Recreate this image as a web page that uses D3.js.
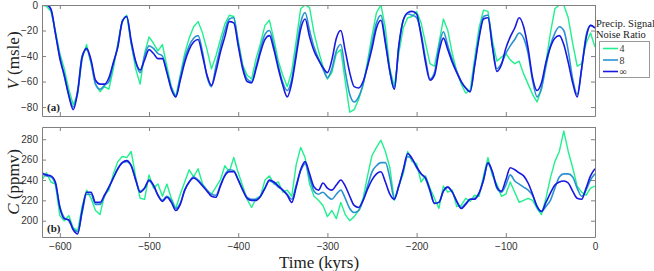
<!DOCTYPE html>
<html>
<head>
<meta charset="utf-8">
<script src="https://cdn.jsdelivr.net/npm/d3@7"></script>
<style>
  body { margin: 0; background: #fff; }
  .serif { font-family: "Liberation Serif", "Times New Roman", "DejaVu Serif", serif; }
</style>
</head>
<body>
<script>
// time in kyrs, one sample every 5 kyr
const time = d3.range(-620, 1, 5);

// sea level V (msle) for each signal/noise ratio
const seaInf = [
  0, 0, -3, -22, -42, -55, -71, -82, -68, -41,
  -34, -43, -59, -62, -62, -57, -45, -33, -13, -9,
  -28, -44, -51, -43, -35, -38, -42, -42, -53, -66,
  -72, -59, -45, -35, -29, -27, -40, -55, -63, -52,
  -37, -25, -13, -14, -32, -50, -60, -61, -50, -37,
  -27, -24, -35, -50, -63, -72, -61, -40, -19, -11,
  -25, -36, -43, -49, -53, -43, -26, -20, -36, -53,
  -64, -65, -60, -48, -34, -18, -12, -30, -52, -66,
  -32, -12, -6, -5, -7, -24, -45, -59, -55, -37,
  -26, -35, -45, -53, -60, -65, -68, -48, -26, -11,
  -10, -33, -52, -47, -34, -25, -18, -10, -17, -34,
  -57, -67, -61, -45, -33, -26, -24, -31, -45, -61,
  -72, -50, -26, -16, -18
];
const sea8 = [
  0, 0, -4, -22, -40, -56, -70, -80, -67, -40,
  -35, -45, -62, -66, -63, -60, -46, -32, -13, -9,
  -30, -45, -53, -40, -32, -34, -38, -40, -52, -65,
  -71, -57, -42, -32, -26, -24, -37, -56, -64, -48,
  -33, -20, -11, -10, -30, -48, -58, -60, -48, -34,
  -23, -20, -32, -48, -61, -67, -58, -36, -14, -6,
  -20, -33, -42, -50, -57, -50, -36, -31, -52, -70,
  -76, -72, -62, -47, -30, -14, -8, -28, -52, -66,
  -33, -12, -7, -8, -10, -22, -42, -58, -53, -33,
  -21, -32, -43, -52, -60, -65, -68, -47, -24, -9,
  -8, -32, -50, -46, -38, -32, -27, -22, -26, -38,
  -59, -72, -65, -48, -32, -22, -17, -20, -36, -58,
  -70, -50, -24, -16, -18
];
const sea4 = [
  0, -1, -5, -20, -38, -50, -66, -78, -70, -42,
  -31, -46, -62, -68, -64, -66, -50, -30, -12, -8,
  -30, -50, -62, -38, -25, -30, -36, -31, -48, -64,
  -72, -55, -38, -26, -17, -13, -22, -35, -50, -40,
  -27, -15, -8, -9, -28, -47, -55, -58, -42, -30,
  -16, -12, -27, -44, -55, -64, -52, -28, -3, 0,
  -2, -22, -36, -48, -58, -53, -38, -35, -60, -84,
  -82, -74, -63, -44, -24, -6, 0, -18, -50, -64,
  -38, -18, -10, -9, -5, -14, -30, -46, -48, -30,
  -11, -20, -38, -52, -62, -69, -67, -42, -18, -4,
  -5, -28, -44, -41, -38, -43, -46, -44, -54, -62,
  -70, -76, -66, -45, -22, -3, 0, 0, -10, -30,
  -48, -46, -30, -22, -33
];

// CO2 C (ppmv)
const co2Inf = [
  247, 245, 244, 238, 213, 202, 201, 191, 187, 210,
  228, 228, 218, 218, 225, 233, 242, 251, 257, 259,
  254, 240, 228, 232, 240, 235, 225, 219, 223, 218,
  210, 216, 230, 238, 242, 239, 234, 229, 224, 223,
  234, 244, 248, 248, 240, 230, 222, 220, 220, 224,
  232, 240, 238, 234, 230, 225, 218, 233, 250, 258,
  246, 233, 230, 237, 232, 230, 235, 240, 234, 224,
  215, 213, 220, 231, 240, 246, 248, 238, 226, 221,
  234, 250, 266, 261, 253, 246, 242, 230, 217, 218,
  229, 233, 228, 219, 212, 216, 221, 221, 227, 240,
  257, 248, 233, 229, 240, 252, 250, 247, 244, 237,
  226, 214, 209, 218, 227, 235, 238, 239, 237, 229,
  222, 221, 232, 244, 251
];
const co28 = [
  246, 244, 243, 236, 214, 203, 200, 192, 189, 208,
  226, 226, 216, 216, 224, 233, 242, 251, 257, 258,
  254, 241, 229, 232, 239, 234, 225, 220, 224, 220,
  212, 217, 230, 238, 243, 240, 235, 230, 226, 225,
  235, 245, 250, 249, 240, 231, 223, 221, 221, 224,
  232, 239, 237, 233, 230, 226, 221, 235, 249, 256,
  242, 229, 226, 228, 224, 221, 226, 230, 222, 212,
  208, 210, 220, 234, 248, 254, 257, 257, 242, 222,
  234, 249, 263, 260, 252, 246, 241, 229, 217, 218,
  229, 233, 228, 219, 213, 217, 221, 222, 227, 240,
  256, 247, 232, 228, 235, 245, 239, 236, 233, 230,
  225, 214, 209, 214, 220, 232, 243, 246, 246, 243,
  232, 224, 230, 240, 246
];
const co24 = [
  240, 247, 238, 236, 205, 200, 205, 193, 190, 214,
  230, 222, 210, 206, 225, 230, 246, 258, 263, 262,
  268, 243, 222, 221, 245, 232, 236, 224, 236, 222,
  212, 226, 238, 250, 243, 251, 236, 230, 226, 233,
  240, 254, 248, 262, 247, 234, 221, 213, 222, 224,
  240, 244, 236, 238, 228, 230, 224, 255, 272, 262,
  236, 224, 220, 215, 204, 210, 202, 218, 206, 200,
  204, 210, 222, 244, 264, 272, 279, 268, 252, 220,
  234, 246, 268, 258, 256, 238, 244, 232, 222, 212,
  234, 228, 230, 214, 215, 222, 219, 225, 224, 244,
  262, 244, 236, 224, 226, 238, 228, 218, 220, 222,
  220, 212, 206, 222, 242, 258, 268, 288, 268, 252,
  234, 228, 225, 232, 234
];

const xTicks = [-600, -500, -400, -300, -200, -100, 0];
const vTicks = [-80, -60, -40, -20, 0];
const cTicks = [200, 220, 240, 260, 280];
const legendLabels = ["4", "8", "\u221e"];
const colors = ["#20f08e", "#2a92d2", "#1818e0"];

const w = 654;
const h = 271;
const svg = d3.select("body").append("svg").attr("width", w).attr("height", h);

const x = d3.scaleLinear().domain([-620, 0]).range([42, 595]);
const yV = d3.scaleLinear().domain([-87, 0]).range([116, 5]);
const yC = d3.scaleLinear().domain([184, 292]).range([237, 127]);

function panel(id, y, yTicks, series, label, italic, rest, showX) {
  const top = y.range()[1], bot = y.range()[0];
  const left = x.range()[0], right = x.range()[1];

  svg.append("clipPath").attr("id", id)
    .append("rect")
    .attr("x", left).attr("y", top)
    .attr("width", right - left).attr("height", bot - top);

  const g = svg.append("g").attr("clip-path", "url(#" + id + ")");
  series.forEach((s, i) => {
    const line = d3.line()
      .x((d, j) => x(time[j]))
      .y((d) => y(d))
      .curve(i === 0 ? d3.curveLinear : d3.curveMonotoneX);
    g.append("path")
      .datum(s)
      .attr("d", line)
      .attr("fill", "none")
      .attr("stroke", colors[i])
      .attr("stroke-width", i === 0 ? 1.4 : 1.6)
      .attr("stroke-linejoin", "round");
  });

  // axes, ticks pointing inward
  const ax = (gen, tr) => {
    const a = svg.append("g").attr("transform", tr).call(gen);
    a.select(".domain").attr("stroke", "#808080");
    a.selectAll(".tick line").attr("stroke", "#808080");
    a.selectAll("text")
      .attr("font-family", "'Liberation Sans', Arial, sans-serif")
      .attr("font-size", "10px")
      .attr("fill", "#333");
    return a;
  };
  ax(d3.axisBottom(x).tickValues(xTicks).tickSizeInner(-4).tickSizeOuter(0)
      .tickPadding(6).tickFormat(showX ? d3.format("d") : ""),
     "translate(0," + bot + ")");
  ax(d3.axisTop(x).tickValues(xTicks).tickSizeInner(-4).tickSizeOuter(0).tickFormat(""),
     "translate(0," + top + ")");
  ax(d3.axisLeft(y).tickValues(yTicks).tickSizeInner(-4).tickSizeOuter(0).tickPadding(4),
     "translate(" + left + ",0)");
  ax(d3.axisRight(y).tickValues(yTicks).tickSizeInner(-4).tickSizeOuter(0).tickFormat(""),
     "translate(" + right + ",0)");

  // panel letter
  svg.append("text")
    .attr("class", "serif")
    .attr("x", left + 5).attr("y", bot - 5)
    .attr("font-size", "11px")
    .attr("font-weight", "bold")
    .attr("fill", "#222")
    .text(label);

  // y label
  const t = svg.append("text")
    .attr("class", "serif")
    .attr("transform", "translate(19," + (top + bot) / 2 + ") rotate(-90)")
    .attr("text-anchor", "middle")
    .attr("font-size", "17px")
    .attr("fill", "#222");
  t.append("tspan").attr("font-style", "italic").text(italic);
  t.append("tspan").text(rest);
}

panel("clipA", yV, vTicks, [sea4, sea8, seaInf], "(a)", "V", " (msle)", false);
panel("clipB", yC, cTicks, [co24, co28, co2Inf], "(b)", "C", " (ppmv)", true);

// x label
svg.append("text")
  .attr("class", "serif")
  .attr("x", 319).attr("y", 268)
  .attr("text-anchor", "middle")
  .attr("font-size", "17px")
  .attr("fill", "#222")
  .text("Time (kyrs)");

// legend
const lg = svg.append("g");
lg.append("text").attr("class", "serif").attr("x", 596).attr("y", 27)
  .attr("font-size", "10.5px").attr("fill", "#222")
  .text("Precip. Signal");
lg.append("text").attr("class", "serif").attr("x", 596).attr("y", 38)
  .attr("font-size", "10.5px").attr("fill", "#222")
  .text("Noise Ratio");
lg.append("rect")
  .attr("x", 599.5).attr("y", 41.5).attr("width", 50).attr("height", 36)
  .attr("fill", "#fff").attr("stroke", "#999");
legendLabels.forEach((d, i) => {
  const yy = 48.5 + i * 11.5;
  lg.append("line")
    .attr("x1", 603).attr("x2", 618).attr("y1", yy).attr("y2", yy)
    .attr("stroke", colors[i]).attr("stroke-width", 1.6);
  lg.append("text")
    .attr("class", "serif")
    .attr("x", 619.5).attr("y", yy + 3.5)
    .attr("font-size", "10px").attr("fill", "#333")
    .text(d);
});
</script>
</body>
</html>
